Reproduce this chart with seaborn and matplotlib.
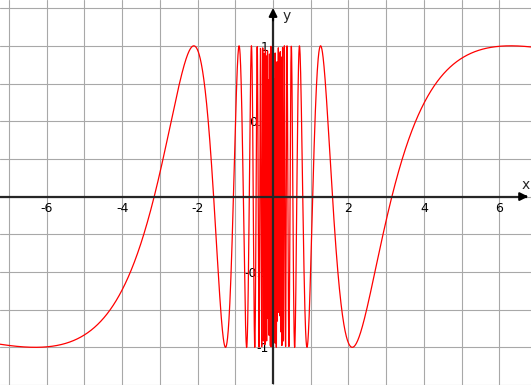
import numpy as np
import pandas as pd
import matplotlib
matplotlib.use("Agg")
import matplotlib.pyplot as plt
import seaborn as sns

# curve y = sin(k / x), k (zeros near x = +-3.1, peaks near +-6.3)
k = 9.9
x_min, x_max = -7.24, 6.84
y_min, y_max = -1.24, 1.304
n_samples = 3000

x_ticks = list(range(-7, 7))
x_labels = ["" if (t % 2 or t == 0) else str(t) for t in x_ticks]
y_ticks = [-1.25, -1.0, -0.75, -0.5, -0.25, 0.0, 0.25, 0.5, 0.75, 1.0, 1.25]
y_labels = ["", "-1", "", "-0.5", "", "", "", "0.5", "", "1", ""]

xs = np.linspace(x_min, x_max, n_samples)
xs = xs[xs != 0]
df = pd.DataFrame({"x": xs, "y": np.sin(k / xs)})

sns.set_style("white")
plt.rcParams["font.family"] = ["DejaVu Sans"]

fig = plt.figure(figsize=(5.31, 3.85), dpi=100)
ax = fig.add_axes([0, 0, 1, 1])

sns.lineplot(data=df, x="x", y="y", color="#ff0000", lw=0.9,
             estimator=None, sort=False, ax=ax, zorder=3)

ax.set_xlim(x_min, x_max)
ax.set_ylim(y_min, y_max)
ax.set_xticks(x_ticks)
ax.set_xticklabels(x_labels)
ax.set_yticks(y_ticks)
ax.set_yticklabels(y_labels)
ax.grid(True, color="#a8a8a8", lw=0.8)
ax.set_axisbelow(True)
ax.set_xlabel("")
ax.set_ylabel("")

# axes through origin
for s in ["top", "right"]:
    ax.spines[s].set_visible(False)
ax.spines["left"].set_position(("data", 0))
ax.spines["bottom"].set_position(("data", 0))
ax.spines["left"].set_linewidth(1.6)
ax.spines["bottom"].set_linewidth(1.6)
ax.spines["left"].set_bounds(y_min, 1.2)
ax.spines["bottom"].set_bounds(x_min, 6.7)
ax.spines["left"].set_zorder(4)
ax.spines["bottom"].set_zorder(4)
ax.tick_params(direction="inout", length=4, width=1, labelsize=9, colors="black")
ax.tick_params(axis="x", pad=2)
ax.tick_params(axis="y", pad=1)

ax.annotate("", xy=(x_max, 0), xytext=(6.6, 0),
            arrowprops=dict(arrowstyle="-|>", color="black", lw=1.5, mutation_scale=12), zorder=5)
ax.annotate("", xy=(0, 1.27), xytext=(0, 1.15),
            arrowprops=dict(arrowstyle="-|>", color="black", lw=1.5, mutation_scale=12), zorder=5)
ax.text(x_max - 0.02, 0.03, "x", fontsize=10, ha="right", va="bottom")
ax.text(0.25, 1.2, "y", fontsize=10, ha="left", va="center")

fig.savefig("out.png", dpi=100)
